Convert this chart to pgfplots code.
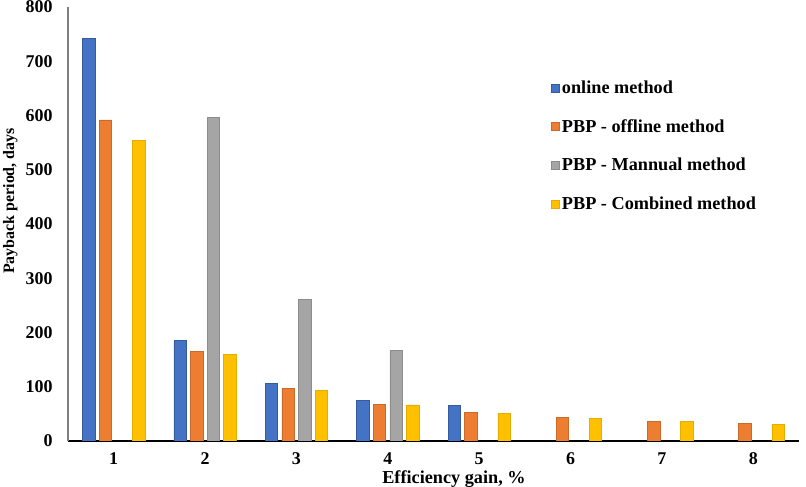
\documentclass[border=0pt]{standalone}
\usepackage{fontspec}
\setmainfont{Liberation Serif}
\usepackage{pgfplots}
\pgfplotsset{compat=1.18}
\definecolor{cblue}{HTML}{4472C4}
\definecolor{corange}{HTML}{ED7D31}
\definecolor{cgray}{HTML}{A5A5A5}
\definecolor{cgold}{HTML}{FFC000}
\begin{document}
\begin{tikzpicture}
\begin{axis}[
  scale only axis,
  width=731bp, height=434bp,
  xmin=0.5, xmax=8.5,
  ymin=0, ymax=800,
  ytick={0,100,...,800},
  xtick={1,...,8},
  ybar=4.1bp,
  bar width=12.5bp,
  axis x line*=bottom,
  axis y line*=left,
  x axis line style={black, line width=1.5bp, -},
  y axis line style={gray, line width=1.2bp, -},
  major tick length=0pt,
  /pgf/number format/assume math mode=true,
  ticklabel style={font=\fontsize{18}{20}\selectfont\bfseries},
  yticklabel style={xshift=-12bp},
  xticklabel style={yshift=-8bp},
  xlabel={Efficiency gain, \%},
  ylabel={Payback period, days},
  xlabel style={font=\fontsize{18.3}{20}\selectfont\bfseries, at={(rel axis cs:0.528,0)}, anchor=north, yshift=-26bp},
  ylabel style={font=\fontsize{16}{18}\selectfont\bfseries, at={(rel axis cs:0,0.553)}, anchor=south, yshift=47bp},
  legend style={draw=none, fill=none, at={(rel axis cs:0.661,0.835)}, anchor=north west,
    font=\fontsize{18.3}{20}\selectfont\bfseries, row sep=20.5bp, inner sep=0pt,
    nodes={inner sep=2bp}},
  legend cell align=left,
  legend image code/.code={\draw[#1, draw opacity=1] (0bp,-4bp) rectangle (8bp,4bp);},
]
\addplot[fill=cblue, draw=cblue!80!black, line width=0.6bp] coordinates {(1,742) (2,185) (3,106) (4,74.5) (5,65)};
\addplot[fill=corange, draw=corange!85!black, line width=0.6bp] coordinates {(1,592) (2,165) (3,97) (4,68) (5,53) (6,43) (7,36.7) (8,32)};
\addplot[fill=cgray, draw=cgray!85!black, line width=0.6bp] coordinates {(2,596) (3,261) (4,167)};
\addplot[fill=cgold, draw=cgold!90!black, line width=0.6bp] coordinates {(1,554) (2,159) (3,93) (4,66.6) (5,51) (6,41.5) (7,36) (8,31)};
\legend{online method, PBP - offline method, PBP - Mannual method, PBP - Combined method}
\end{axis}
\pgfresetboundingbox
\path ([xshift=-68bp,yshift=-46bp]current axis.south west) rectangle ([xshift=7bp,yshift=7bp]current axis.north east);
\end{tikzpicture}
\end{document}
